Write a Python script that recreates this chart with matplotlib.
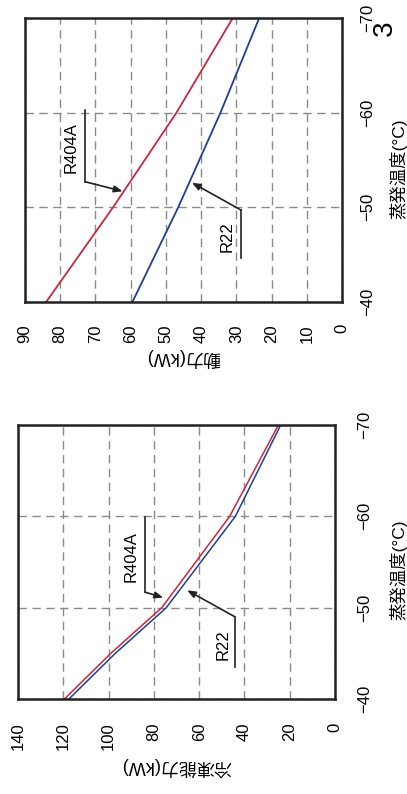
import matplotlib
matplotlib.use("Agg")
import matplotlib.pyplot as plt

plt.rcParams['font.family'] = ['Liberation Sans', 'Noto Sans CJK JP', 'DejaVu Sans']

# ---- data ----
temps_pow = [-40, -50, -60, -70]
pow_r404a = [84, 65, 47, 31]
pow_r22 = [59.5, 46.5, 34.5, 23.5]

temps_cap = [-40, -45, -50, -60, -70]
cap_r404a = [119.5, 99, 76.5, 46.5, 25]
cap_r22 = [117.5, 97, 74.5, 44, 24]

temp_ticks = [-40, -50, -60, -70]
pow_ticks = [0, 10, 20, 30, 40, 50, 60, 70, 80, 90]
cap_ticks = [0, 20, 40, 60, 80, 100, 120, 140]

temp_label = "蒸発温度(°C)"
pow_label = "動力(kW)"
cap_label = "冷凍能力(kW)"

RED = "#c8283c"
BLUE = "#1f3f8f"
GRID = "#8a8a8a"

fig = plt.figure(figsize=(4.07, 7.94), dpi=100)
fig.patch.set_facecolor("white")

ax_top = fig.add_axes([25/407, (794-302)/794, 317/407, 284/794])
ax_bot = fig.add_axes([18/407, (794-699)/794, 317/407, 274/794])


def style(ax, xticks, xmax, xpad, ypad):
    ax.set_xlim(xmax, 0)
    ax.set_ylim(-40, -70)
    ax.set_xticks(xticks)
    ax.set_xticklabels([str(v) for v in xticks], rotation=90, fontsize=12)
    ax.yaxis.tick_right()
    ax.set_yticks(temp_ticks)
    ax.set_yticklabels(["\u2212%d" % abs(v) for v in temp_ticks], rotation=90,
                       fontsize=12, va='center')
    ax.tick_params(axis='x', length=0, pad=xpad)
    ax.tick_params(axis='y', length=0, pad=ypad)
    ax.grid(True, color=GRID, linestyle=(0, (6, 4)), linewidth=1.0)
    for s in ax.spines.values():
        s.set_linewidth(1.8)
        s.set_color("#222222")


style(ax_top, pow_ticks, 90, 16, 13)
style(ax_bot, cap_ticks, 140, 17, 16)

# lines
ax_top.plot(pow_r404a, temps_pow, color=RED, lw=1.3)
ax_top.plot(pow_r22, temps_pow, color=BLUE, lw=1.3)
ax_bot.plot(cap_r404a, temps_cap, color=RED, lw=1.1)
ax_bot.plot(cap_r22, temps_cap, color=BLUE, lw=1.1)

# axis labels
for ax, lab, ly, tx in [(ax_top, pow_label, -0.197, 1.148), (ax_bot, cap_label, -0.248, 1.170)]:
    ax.set_xlabel(lab, rotation=180, fontsize=13, va='center', ha='center')
    ax.xaxis.set_label_coords(0.5, ly)
    ax.set_ylabel(temp_label, rotation=90, fontsize=12.5, va='center', ha='center')
    ax.yaxis.set_label_position('right')
    ax.yaxis.set_label_coords(tx, 0.47)


def leader(ax, text, text_xy, corner_top, corner, tip):
    ax.text(text_xy[0], text_xy[1], text, rotation=90, fontsize=12,
            ha='center', va='center')
    ax.plot([corner_top[0], corner[0]], [corner_top[1], corner[1]], color='#222222', lw=1.2)
    ax.annotate('', xy=tip, xytext=corner,
                arrowprops=dict(arrowstyle='-|>,head_length=0.5,head_width=0.2',
                                color='#222222', lw=1.2, shrinkA=0, shrinkB=0))


leader(ax_top, "R404A", (76.9, -56.3), (72.9, -60.3), (72.9, -52.7), (62.3, -51.7))
leader(ax_top, "R22", (32.6, -46.9), (28.6, -44.6), (28.6, -49.7), (42.6, -52.6))
leader(ax_bot, "R404A", (90, -55.6), (83.9, -59.9), (83.9, -51.7), (75.9, -51.1))
leader(ax_bot, "R22", (49.4, -46.0), (44.2, -43.5), (44.2, -49.0), (65.3, -51.9))

# page number
fig.text(385/407, 1 - 28/794, "3", rotation=90, fontsize=20, ha='center', va='center')

fig.savefig("out.png", dpi=100)
